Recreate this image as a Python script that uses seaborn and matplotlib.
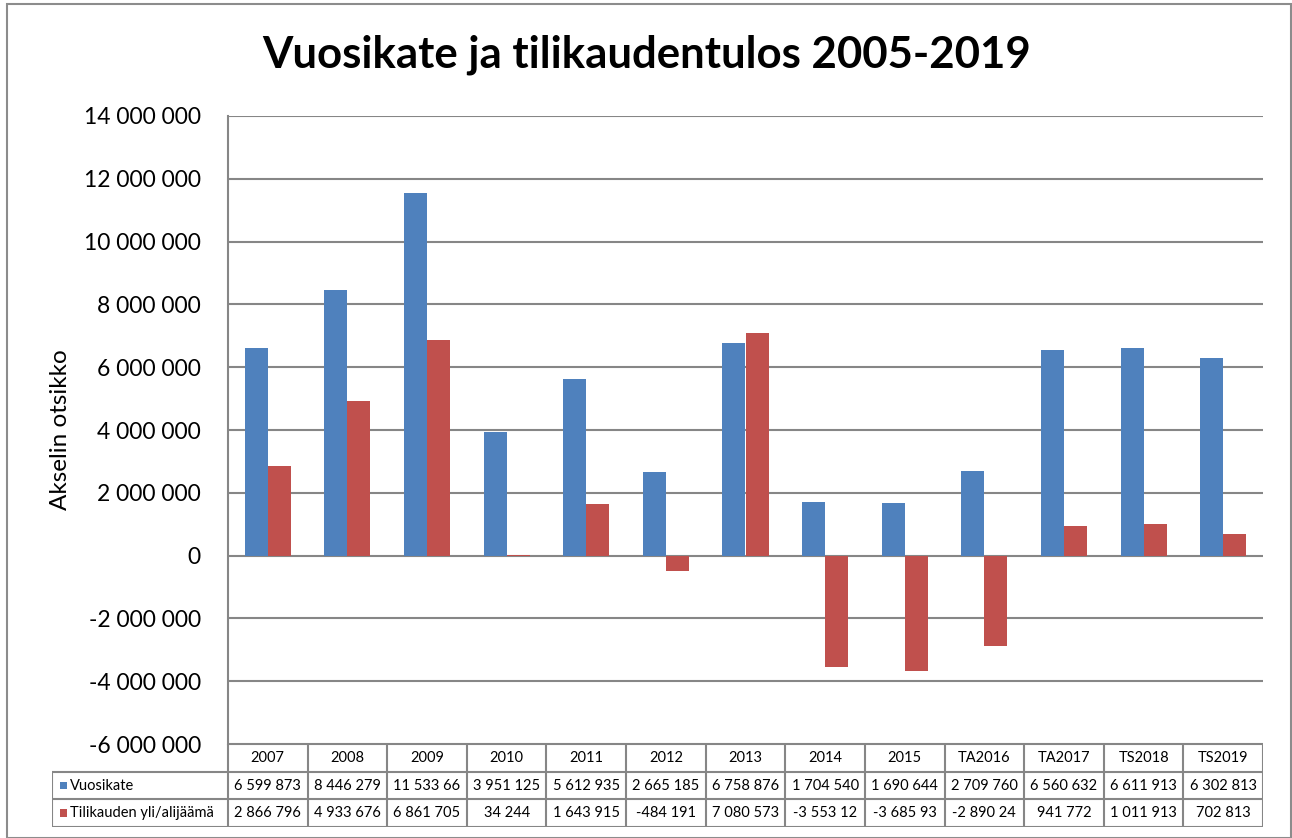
import matplotlib
matplotlib.use("Agg")
import matplotlib.pyplot as plt
import seaborn as sns
import pandas as pd
import numpy as np
from matplotlib.patches import Rectangle
from matplotlib.lines import Line2D

categories = ["2007", "2008", "2009", "2010", "2011", "2012", "2013", "2014",
              "2015", "TA2016", "TA2017", "TS2018", "TS2019"]
vuosikate = [6599873, 8446279, 11533660, 3951125, 5612935, 2665185, 6758876,
             1704540, 1690644, 2709760, 6560632, 6611913, 6302813]
tilikausi = [2866796, 4933676, 6861705, 34244, 1643915, -484191, 7080573,
             -3553120, -3685930, -2890240, 941772, 1011913, 702813]
series_names = ["Vuosikate", "Tilikauden yli/alijäämä"]
colors = ["#4F81BD", "#C0504D"]
yticks = list(range(-6000000, 14000001, 2000000))

title = "Vuosikate ja tilikaudentulos 2005-2019"
ylabel = "Akselin otsikko"

sns.set_theme(style="white")
plt.rcParams["font.family"] = ["Lato", "DejaVu Sans"]

W, H = 1292, 838
fig = plt.figure(figsize=(W / 100, H / 100), dpi=100)

GRID = "#868686"

# outer chart border
fig.patches.append(Rectangle((7 / W, 0), 1 - 8 / W, 1 - 4 / H, transform=fig.transFigure,
                             fill=False, edgecolor="#8c8c8c", linewidth=1.5, zorder=0))

L, R, T, B = 228, 1263, 116, 744
ax = fig.add_axes([L / W, (H - B) / H, (R - L) / W, (B - T) / H])

df = pd.DataFrame({
    "cat": categories * 2,
    "val": vuosikate + tilikausi,
    "ser": [series_names[0]] * len(categories) + [series_names[1]] * len(categories),
})
sns.barplot(data=df, x="cat", y="val", hue="ser", palette=colors, width=0.578,
            gap=0, saturation=1, ax=ax, legend=False, linewidth=0, errorbar=None)

ax.set_ylim(yticks[0], yticks[-1])
ax.set_xlim(-0.5, len(categories) - 0.5)
ax.set_yticks(yticks)
ax.set_yticklabels([f"{v:,}".replace(",", " ") for v in yticks], fontsize=16.5, color="#000000")
ax.set_xticks([])
ax.set_xlabel("")
ax.set_ylabel(ylabel, fontsize=17.5, color="#000000", labelpad=9)
ax.yaxis.grid(True, color=GRID, linewidth=1.5)
ax.set_axisbelow(True)
for s in ["top", "right", "bottom"]:
    ax.spines[s].set_visible(False)
ax.spines["left"].set_color(GRID)
ax.spines["left"].set_linewidth(1.5)
ax.tick_params(axis="y", length=0, pad=19.5)

fig.text(0.5 + 1 / W, 1 - 55 / H, title, ha="center", va="center",
         fontsize=31.5, fontweight="bold", color="#000000")

# data table
TL, TT, TB = 52, 744, 827
cw = (R - L) / len(categories)
tax = fig.add_axes([TL / W, (H - TB) / H, (R - TL) / W, (TB - TT) / H])
tax.set_xlim(-0.5 - (L - TL) / cw, len(categories) - 0.5)
tax.set_ylim(3, 0)
tax.axis("off")
x0 = -0.5 - (L - TL) / cw
xs = -0.5
xe = len(categories) - 0.5
lk = dict(color=GRID, linewidth=1.5)
# horizontal lines
tax.add_line(Line2D([xs, xe], [0, 0], **lk))
tax.add_line(Line2D([x0, xe], [1, 1], **lk))
tax.add_line(Line2D([x0, xe], [2, 2], **lk))
tax.add_line(Line2D([x0, xe], [3, 3], **lk))
# vertical lines
tax.add_line(Line2D([x0, x0], [1, 3], **lk))
for i in range(len(categories) + 1):
    tax.add_line(Line2D([i - 0.5, i - 0.5], [0, 3], **lk))

def fmt(v):
    s = f"{v:,}".replace(",", " ")
    return s[:9]

for i, c in enumerate(categories):
    tax.text(i, 0.5, c, ha="center", va="center", fontsize=10.5, color="#000000")
    tax.text(i, 1.5, fmt(vuosikate[i]), ha="center", va="center", fontsize=10.5, color="#000000")
    tax.text(i, 2.5, fmt(tilikausi[i]), ha="center", va="center", fontsize=10.5, color="#000000")

for r, (name, col) in enumerate(zip(series_names, colors)):
    kx = x0 + 8 / cw
    tax.add_patch(Rectangle((kx, 1.5 + r - 0.14), 7 / cw, 0.28, color=col, linewidth=0))
    tax.text(kx + 10 / cw, 1.5 + r, name, ha="left", va="center", fontsize=10.5, color="#000000")

fig.savefig("out.png", dpi=100, facecolor="white")
